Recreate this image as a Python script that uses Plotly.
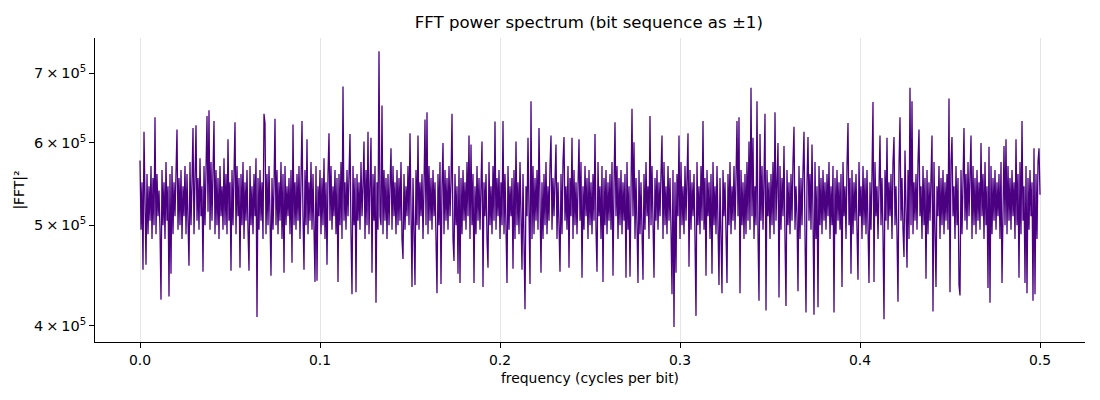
import numpy as np
import plotly.graph_objects as go

# power values in units of 1e5 (freq 0 .. 0.5)
power_e5 = [
    5.77, 4.95, 5.5, 4.53, 6.15, 5.0, 4.58, 5.6, 4.9, 5.45,
    5.05, 5.7, 4.85, 5.55, 5.0, 6.35, 4.9, 5.6, 5.1, 5.4,
    4.95, 4.24, 5.65, 5.0, 5.5, 4.85, 5.75, 5.05, 5.45, 4.27,
    5.6, 4.49, 5.7, 4.9, 5.5, 5.1, 5.8, 6.18, 4.95, 5.55,
    5.0, 5.65, 4.85, 5.45, 5.1, 5.7, 4.9, 5.6, 5.05, 4.57,
    5.75, 5.0, 5.5, 6.2, 4.9, 5.65, 6.24, 5.05, 5.55, 4.95,
    5.8, 5.1, 5.45, 4.51, 5.7, 5.0, 5.6, 6.37, 5.15, 6.45,
    4.95, 5.75, 5.05, 5.5, 6.3, 4.9, 5.65, 5.0, 5.55, 4.85,
    5.7, 5.1, 5.45, 4.95, 5.8, 5.0, 5.6, 4.9, 6.05, 5.05,
    5.5, 4.52, 5.65, 5.0, 5.45, 6.28, 4.9, 5.7, 5.1, 5.55,
    4.55, 5.6, 5.0, 5.75, 4.85, 5.5, 5.05, 5.65, 4.95, 4.52,
    5.7, 5.0, 5.45, 4.9, 5.6, 5.1, 5.8, 4.08, 5.55, 4.95,
    5.65, 5.05, 5.5, 4.85, 6.4, 6.27, 4.9, 5.6, 5.0, 5.7,
    5.1, 4.47, 5.55, 4.95, 5.45, 6.33, 5.0, 5.65, 4.9, 5.5,
    5.05, 5.75, 4.85, 5.6, 4.5, 5.7, 5.0, 5.45, 5.1, 5.55,
    4.9, 5.65, 4.6, 6.25, 5.0, 5.5, 4.95, 5.6, 5.05, 5.7,
    4.85, 5.55, 6.3, 5.1, 4.53, 5.65, 5.0, 6.05, 4.9, 5.5,
    5.05, 5.75, 4.95, 5.6, 5.0, 4.41, 5.7, 4.42, 5.45, 5.1,
    5.65, 4.9, 5.55, 5.0, 5.8, 4.85, 5.5, 4.58, 5.6, 6.13,
    5.05, 5.7, 4.95, 5.45, 5.1, 5.65, 4.9, 5.55, 4.41, 5.6,
    5.0, 5.75, 4.85, 6.8, 5.05, 5.5, 4.95, 5.65, 5.1, 5.45,
    6.12, 4.9, 4.29, 5.7, 5.0, 5.55, 4.31, 5.6, 5.05, 5.5,
    4.95, 5.75, 5.1, 5.45, 6.02, 4.85, 5.65, 5.0, 6.15, 4.9,
    5.55, 6.07, 4.5, 5.6, 5.05, 5.7, 4.21, 5.5, 4.95, 7.35,
    5.1, 5.0, 6.52, 4.9, 5.65, 5.05, 5.55, 4.85, 5.6, 5.0,
    5.45, 5.93, 4.95, 5.7, 5.1, 5.5, 4.9, 5.65, 5.0, 5.55,
    5.05, 5.75, 4.85, 4.64, 5.6, 4.95, 5.45, 5.1, 5.7, 5.0,
    6.13, 4.9, 4.36, 5.55, 5.05, 4.38, 5.65, 5.0, 6.1, 4.95,
    5.5, 5.1, 5.6, 4.85, 5.45, 6.32, 5.0, 6.42, 4.9, 5.7,
    5.05, 5.55, 4.95, 5.65, 5.1, 5.5, 4.85, 4.3, 5.6, 5.0,
    5.75, 4.39, 5.45, 6.0, 4.9, 5.65, 5.05, 5.55, 4.95, 5.7,
    5.1, 5.5, 6.4, 4.85, 4.62, 5.6, 5.0, 5.45, 4.49, 5.7,
    4.4, 5.55, 4.9, 5.65, 5.05, 5.5, 4.95, 5.75, 5.1, 6.1,
    4.85, 5.98, 5.0, 5.6, 4.4, 5.45, 4.9, 5.7, 5.05, 5.55,
    4.95, 5.65, 6.02, 4.36, 5.5, 5.1, 5.6, 4.85, 4.55, 5.75,
    5.0, 5.45, 4.9, 5.7, 5.05, 6.29, 4.95, 5.55, 5.1, 5.65,
    4.85, 5.5, 5.0, 6.3, 4.9, 5.6, 5.05, 4.4, 5.7, 4.95,
    5.45, 5.1, 5.55, 4.54, 5.65, 4.85, 6.02, 5.0, 5.5, 4.9,
    5.75, 5.05, 4.53, 5.6, 4.95, 4.15, 5.45, 5.1, 6.07, 5.0,
    4.39, 6.58, 4.85, 5.7, 4.9, 5.55, 5.05, 5.65, 4.95, 6.2,
    5.1, 4.5, 5.5, 4.85, 5.6, 5.0, 5.75, 4.9, 5.45, 5.05,
    5.7, 6.1, 4.95, 5.55, 5.1, 5.65, 5.98, 4.85, 5.5, 5.0,
    4.51, 5.6, 4.9, 5.75, 6.08, 5.05, 5.45, 4.95, 5.7, 4.55,
    5.55, 5.1, 6.07, 4.85, 5.65, 5.0, 5.5, 4.9, 5.6, 6.05,
    5.05, 5.75, 4.45, 5.45, 4.95, 5.7, 5.1, 5.55, 4.85, 5.65,
    5.0, 5.5, 4.9, 5.6, 5.05, 6.12, 4.95, 4.51, 5.75, 5.1,
    5.45, 4.85, 5.7, 4.41, 5.55, 5.0, 5.65, 4.9, 5.5, 5.05,
    5.6, 4.95, 5.75, 4.47, 5.45, 6.28, 5.1, 5.7, 4.85, 5.55,
    5.0, 5.65, 4.9, 5.5, 5.05, 5.6, 4.45, 5.75, 4.95, 5.45,
    4.46, 5.7, 6.47, 5.1, 6.01, 4.85, 5.55, 5.0, 4.4, 5.65,
    4.9, 5.5, 5.05, 4.43, 5.6, 4.95, 5.75, 5.1, 5.45, 4.85,
    6.37, 5.0, 5.7, 4.9, 4.45, 5.55, 5.05, 5.65, 4.95, 5.5,
    5.1, 5.6, 6.1, 4.85, 5.75, 5.0, 5.45, 4.9, 5.7, 5.05,
    5.55, 4.95, 4.29, 5.65, 3.99, 5.5, 4.5, 5.6, 5.1, 6.1,
    4.85, 5.75, 5.0, 5.45, 4.9, 5.7, 5.05, 5.55, 6.13, 4.56,
    5.65, 4.95, 5.5, 5.1, 5.6, 4.85, 4.09, 5.75, 5.0, 5.45,
    4.9, 5.7, 5.05, 6.3, 4.95, 5.55, 4.47, 5.65, 5.1, 5.5,
    4.85, 5.6, 4.49, 5.75, 5.0, 5.45, 4.9, 5.7, 5.05, 4.38,
    5.55, 4.95, 4.3, 5.65, 5.1, 5.5, 4.85, 4.4, 5.6, 5.0,
    5.75, 4.9, 5.45, 5.05, 5.7, 4.95, 5.55, 6.3, 5.1, 6.35,
    4.3, 5.65, 5.0, 5.5, 4.85, 5.6, 4.9, 5.75, 5.05, 6.02,
    4.95, 6.78, 5.1, 6.07, 4.85, 5.45, 5.0, 6.58, 4.9, 4.23,
    6.12, 5.05, 5.7, 4.95, 5.55, 6.4, 4.14, 5.65, 5.1, 5.5,
    4.85, 5.6, 5.0, 5.75, 4.9, 6.42, 5.05, 5.45, 6.0, 4.26,
    5.7, 4.95, 5.55, 5.1, 5.96, 4.85, 4.18, 5.65, 5.0, 5.5,
    4.9, 5.6, 5.05, 5.75, 6.22, 4.95, 5.45, 5.1, 4.32, 5.7,
    4.85, 5.55, 5.0, 5.65, 6.15, 4.9, 4.12, 5.5, 6.08, 5.05,
    5.6, 4.95, 5.98, 5.1, 4.1, 5.75, 4.85, 5.45, 4.17, 5.7,
    5.0, 5.55, 4.9, 5.65, 5.05, 5.5, 4.95, 5.6, 5.1, 5.75,
    4.85, 5.45, 5.0, 5.7, 4.12, 5.55, 4.9, 5.65, 5.05, 5.5,
    4.95, 5.6, 4.36, 5.75, 5.1, 5.45, 4.85, 5.7, 6.27, 5.0,
    5.55, 4.49, 5.65, 4.9, 5.5, 5.05, 5.6, 4.95, 4.43, 5.75,
    5.1, 5.45, 4.85, 5.7, 5.0, 5.55, 4.9, 5.65, 5.05, 4.4,
    5.5, 4.95, 5.6, 6.57, 4.41, 5.75, 5.1, 5.45, 4.85, 5.7,
    6.1, 5.0, 5.55, 4.9, 4.06, 5.65, 5.05, 6.07, 4.95, 5.5,
    5.1, 5.6, 4.85, 5.75, 6.08, 5.0, 5.45, 4.9, 4.22, 5.7,
    6.35, 5.05, 5.55, 4.95, 4.66, 5.9, 5.1, 4.55, 5.65, 4.85,
    6.78, 5.0, 6.58, 4.9, 5.5, 5.05, 5.6, 4.95, 5.75, 6.18,
    5.1, 5.45, 4.85, 5.7, 5.0, 5.55, 4.44, 5.65, 4.9, 5.5,
    5.05, 5.6, 6.1, 4.13, 5.75, 4.95, 4.36, 5.45, 5.1, 5.7,
    4.85, 5.55, 5.0, 5.65, 4.9, 5.5, 5.05, 5.6, 4.95, 6.62,
    4.31, 5.75, 6.08, 5.1, 5.45, 4.85, 5.7, 5.0, 5.55, 4.38,
    4.28, 5.65, 4.9, 5.5, 6.2, 5.05, 5.6, 4.95, 5.75, 5.1,
    5.45, 6.1, 4.85, 5.7, 5.0, 5.55, 4.9, 5.65, 5.05, 5.5,
    4.95, 6.0, 5.1, 5.6, 4.85, 5.75, 5.0, 5.45, 4.35, 5.95,
    4.21, 5.7, 4.9, 5.55, 5.05, 5.65, 4.95, 5.5, 5.1, 5.6,
    4.85, 5.75, 4.4, 5.45, 5.96, 5.0, 6.05, 4.9, 5.7, 5.05,
    5.55, 4.95, 5.65, 5.1, 5.5, 4.85, 6.05, 5.0, 5.6, 4.45,
    5.75, 4.9, 6.3, 5.05, 5.45, 4.4, 5.7, 4.3, 5.55, 4.95,
    5.65, 5.1, 5.5, 4.23, 5.93, 4.29, 5.6, 4.85, 5.75, 5.93,
    5.35,
]
power = np.array(power_e5) * 1e5
freq = np.linspace(0.0, 0.5, len(power))

x_ticks = [0.0, 0.1, 0.2, 0.3, 0.4, 0.5]
x_tick_labels = ["0.0", "0.1", "0.2", "0.3", "0.4", "0.5"]
y_ticks = [4e5, 5e5, 6e5, 7e5]
y_tick_labels = ["4\u2009×\u200910<sup>5</sup>", "5\u2009×\u200910<sup>5</sup>",
                 "6\u2009×\u200910<sup>5</sup>", "7\u2009×\u200910<sup>5</sup>"]

fig = go.Figure()
fig.add_trace(go.Scatter(x=freq, y=power, mode="lines",
                         line=dict(color="#4B0082", width=1.3)))

# the page body adds an 8px offset; margins compensate so the axes land where the reference has them
font = "DejaVu Sans, sans-serif"
fig.update_layout(
    width=1100, height=400,
    margin=dict(l=87, r=23, t=30, b=66),
    paper_bgcolor="white", plot_bgcolor="white",
    showlegend=False,
    font=dict(family=font, size=14, color="black"),
    title=dict(text="FFT power spectrum (bit sequence as ±1)", x=0.528, xanchor="center",
               y=0.965, yanchor="middle", font=dict(size=16.6, family=font)),
)
fig.update_xaxes(
    range=[-0.025, 0.525], tickvals=x_ticks, ticktext=x_tick_labels,
    showgrid=True, gridcolor="#e6e6e6", gridwidth=1,
    showline=True, linecolor="black", linewidth=1, mirror=False,
    ticks="outside", ticklen=5, tickcolor="black", zeroline=False, automargin=False,
    tickfont=dict(size=13.9),
    title=dict(text="frequency (cycles per bit)", font=dict(size=13.9), standoff=6),
)
fig.update_yaxes(
    type="log", range=[np.log10(3.86e5), np.log10(7.57e5)],
    tickvals=y_ticks, ticktext=y_tick_labels,
    showgrid=False, showline=True, linecolor="black", linewidth=1,
    ticks="outside", ticklen=5, tickcolor="black", zeroline=False, automargin=False,
    tickfont=dict(size=14.5),
    title=dict(text="|FFT|²", font=dict(size=13.9), standoff=6),
)
fig.write_html("out.html")
